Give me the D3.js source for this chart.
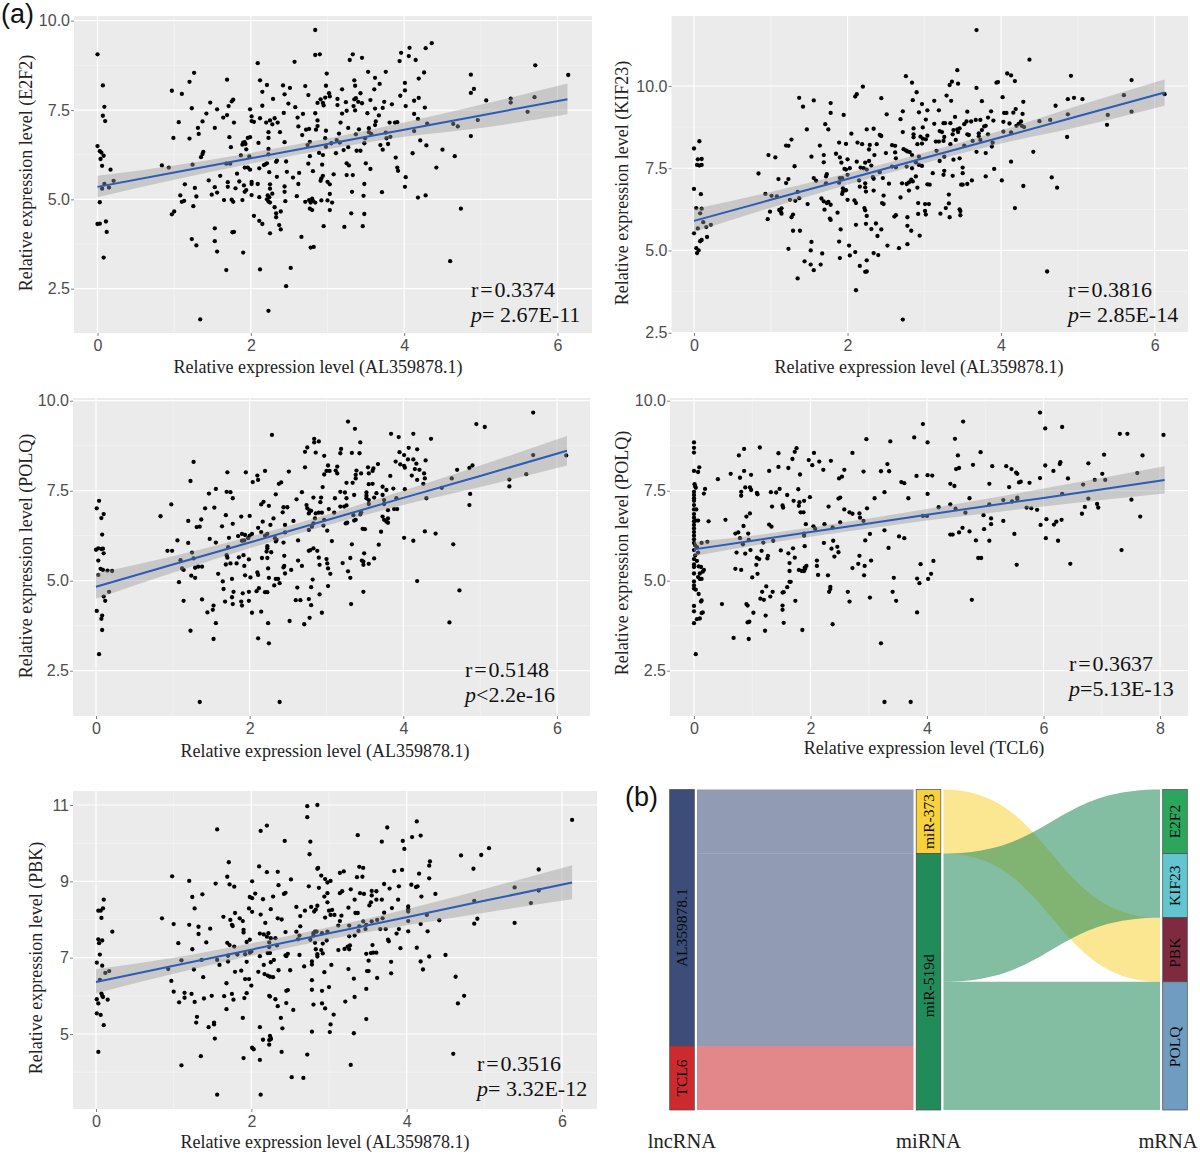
<!DOCTYPE html>
<html>
<head>
<meta charset="utf-8">
<script src="https://cdn.jsdelivr.net/npm/d3@7"></script>
<style>
  html, body { margin: 0; background: #fff; }
  svg { display: block; }
</style>
</head>
<body>
<svg id="chart" width="1200" height="1154"></svg>
<script>
// scatter values, [x, y]
var e2f2Points = [[0,9.06],[.07,8.19],[.09,7.59],[.07,7.34],[.10,7.19],[0,6.49],[.03,6.35],[.05,6.31],[.08,6.22],[.04,6.13],[.06,5.94],[.17,5.83],[.21,5.52],[.09,5.43],[.15,5.33],[.06,5.30],[.03,4.92],[0,4.31],[.03,4.32],[.11,4.38],[.12,4.09],[.08,3.37],
[.84,5.95],[.93,5.89],[.97,4.58],[1,4.66],[.97,8.04],[1.10,7.95],[1.06,7.16],[.99,6.72],[1.08,5.11],[1.10,4.93],[1.13,4.96],[1.14,5.42],[1.2,8.29],[1.26,8.54],[1.23,7.55],[1.2,6.7],[1.24,5.97],[1.27,5.32],[1.25,4.81],[1.29,5.08],[1.23,3.89],[1.29,3.71],[1.31,7],[1.32,6.83],[1.37,7.18],[1.35,6.18],[1.37,6.27],[1.38,6.33],[1.34,1.64],[1.42,7.4],[1.47,7.71],[1.45,5.53],[1.49,5.13],[1.53,7],[1.56,7.52],[1.6,5.66],[1.53,5.34],[1.56,5.19],[1.53,4.19],[1.53,3.83],[1.56,3.54],[1.68,3.02],[1.69,8.35],[1.64,7.29],[1.69,7.36],[1.71,7.61],[1.75,7.74],[1.77,7.79],[1.78,7.15],[1.72,6.74],[1.74,6.46],[1.68,6],[1.73,6],[1.7,5.48],[1.7,5.35],[1.65,4.98],[1.75,4.99],[1.77,4.93],[1.8,5.31],[1.82,5.72],[1.85,5.5],[1.76,4.08],[1.78,4.09],[1.89,4.98],[1.9,3.51],[1.87,6.23],[1.89,6.53],[1.92,6.6],[1.9,6.59],[1.93,6.55],[1.92,5.89],[1.91,5.39],[1.96,5.89],[1.92,5.21],[1.94,5.26],[1.94,6.4],[1.96,6.72],[1.99,6.74],[1.98,6.2],[1.99,7.52],[2.01,7.32],[2.04,7.17],[2.01,7.19],[1.99,5.83],[2.01,5.49],[2.01,5.43],[2.01,5.12],[2.04,4.54],
[2.09,8.81],[2.12,8.33],[2.15,8.01],[2.15,7.62],[2.12,7.27],[2.1,6.58],[2.11,5.87],[2.17,5.96],[2.19,5.98],[2.21,6.01],[2.09,5.43],[2.11,5.06],[2.11,4.4],[2.15,4.31],[2.12,3.04],[2.23,1.88],[2.21,8.2],[2.29,7.81],[2.2,7.15],[2.25,7.21],[2.31,7.27],[2.28,7.1],[2.35,7.15],[2.23,6.88],[2.23,6.72],[2.23,6.41],[2.23,6.26],[2.38,6.88],[2.44,6.6],[2.33,6.05],[2.34,6.08],[2.24,5.76],[2.34,5.63],[2.25,5.42],[2.25,5.3],[2.28,5.16],[2.22,5.11],[2.21,5],[2.23,4.94],[2.25,4.91],[2.24,5.06],[2.31,4.78],[2.33,4.61],[2.33,4.5],[2.39,4.66],[2.37,4.28],[2.39,4.16],[2.25,4.05],[2.46,2.57],[2.52,3.08],[2.42,8.19],[2.44,7.94],[2.51,8.12],[2.49,7.68],[2.43,7.42],[2.58,7.58],[2.57,8.85],[2.46,6.06],[2.47,5.77],[2.44,5.36],[2.44,5.21],[2.45,4.95],[2.55,5.61],[2.6,5.09],[2.66,3.95],[2.61,7.29],[2.62,7.04],[2.68,7.39],[2.67,6.8],[2.71,8.17],[2.75,7.92],[2.72,6.95],[2.76,6.97],[2.74,6.52],[2.77,6.61],[2.75,6],[2.77,6.21],[2.63,5.74],[2.62,5.43],[2.71,4.93],[2.76,4.98],[2.8,5.02],[2.81,4.96],[2.78,4.91],[2.84,4.91],[2.77,4.74],[2.8,4.7],[2.78,3.65],[2.82,3.67],[2.81,5.79],
[2.84,9.74],[2.84,9.04],[2.9,9.06],[2.99,8.52],[2.98,8.18],[3.02,7.97],[3.03,7.88],[2.91,7.8],[2.97,7.85],[2.87,7.7],[2.94,7.7],[2.95,7.63],[2.84,7.41],[2.87,7.21],[2.87,7.05],[2.85,6.95],[2.98,6.92],[2.97,6.71],[2.98,6.47],[3.05,6.57],[3.12,6.66],[2.89,6.3],[2.94,6.24],[2.93,5.97],[2.92,5.59],[2.91,5.52],[2.94,5.66],[3,5.49],[3.03,5.42],[3.08,5.7],[3.03,5.15],[2.92,4.97],[3,4.97],[3.06,4.91],[3.03,4.7],[2.95,4.25],[3.22,4.23],[3.19,8.08],[3.13,7.81],[3.24,7.72],[3.13,7.64],[3.19,7.4],[3.25,7.48],[3.17,7.15],[3.15,6.84],[3.16,6.59],[3.11,6.29],[3.21,6.38],[3.27,6.46],[3.27,7],[3.25,6.01],[3.28,5.95],[3.25,5.68],[3.33,5.68],[3.32,5.21],[3.31,4.61],[3.46,4.25],[3.48,4.59],[3.47,5.1],[3.48,5.43],[3.5,6.01],[3.56,5.85],[3.29,8.9],[3.33,9.06],[3.45,8.96],[3.35,8.33],[3.36,8.18],[3.43,7.97],[3.35,7.8],[3.34,7.61],[3.37,7.83],[3.4,7.73],[3.45,7.69],[3.36,7.49],[3.52,7.41],[3.41,6.96],[3.37,6.82],[3.38,6.36],[3.43,6.36],[3.53,8.57],[3.62,8.4],[3.68,8.23],[3.61,8.08],[3.56,7.78],[3.62,7.54],[3.54,6.99],[3.62,7.08],[3.63,7.18],[3.67,7.35],[3.76,8.57],[3.74,7.73],[3.72,7.56],[3.54,6.88],[3.57,6.83],[3.48,6.57],[3.49,6.71],[3.69,6.52],[3.72,6.39],[3.77,6.71],[3.79,6.55],[3.82,6.75],[3.76,6.87],[3.84,7.66],[3.81,7.15],[3.88,7.15],[3.91,7.16],[3.89,6.17],[3.91,5.89],[3.92,5.8],[3.71,5.2],[4.02,5.62],[4.01,5.35],
[3.94,8.87],[3.96,9.1],[4.07,9.24],[4.06,9.01],[4.15,8.9],[4.28,9.23],[4.36,9.37],[4.26,8.55],[4.19,8.38],[4.01,8.26],[4.01,8.05],[3.95,7.9],[4.02,7.61],[4.13,7.76],[4.19,7.84],[4.27,7.57],[4.13,7.39],[4.18,7.25],[4.3,7.12],[4.13,6.91],[4.21,6.65],[4.11,6.29],[4.29,6.51],[4.18,5.05],[4.28,5.11],[4.42,5.89],[4.5,6.39],[4.64,7.11],[4.7,7.04],[4.66,6.21],[4.74,4.74],[4.6,3.27],[4.87,8.49],[4.87,7.98],[4.91,8.09],[4.87,6.77],[4.96,7.22],[5.07,7.77],[5.39,7.82],[5.39,7.71],[5.71,8.75],[5.7,7.86],[5.61,7.45],[6.14,8.48]];

var kif23Points = [[0,8.1],[.07,8.32],[.05,7.77],[.1,7.78],[.04,7.6],[.07,7.58],[.1,7.6],[0,6.87],[.09,6.71],[.03,6.29],[.1,6.27],[.08,6.13],[.05,5.67],[0,5.52],[.12,5.86],[.16,5.71],[.22,5.78],[.17,5.41],[.1,5.32],[.08,5.28],[.03,5.07],[.06,5],[.04,4.92],
[.84,7.34],[.93,6.72],[1.01,6.66],[1.08,6.64],[.97,7.9],[1.06,7.83],[.96,5.95],[.99,6.18],[1.1,7.17],[1.11,6.23],[1.14,6.28],[1.13,6.18],[1.14,6.12],[1.2,7.05],[1.23,7.17],[1.2,8.19],[1.23,8.18],[1.27,8.37],[1.31,7.56],[1.25,6.54],[1.32,6.51],[1.35,6.78],[1.37,6.59],[1.27,6.01],[1.29,6.09],[1.29,5.6],[1.38,5.6],[1.23,5.05],[1.35,4.15],[1.37,9.64],[1.42,9.37],[1.47,8.68],[1.56,9.56],[1.48,6.41],[1.53,7.85],[1.56,7.2],[1.59,7.12],[1.53,5.26],[1.52,5],[1.44,4.67],[1.52,4.57],[1.56,4.4],[1.65,4.57],[1.67,4.91],[1.64,8.19],[1.69,7.9],[1.69,7.68],[1.71,8.84],[1.75,8.68],[1.78,9.18],[1.78,9.48],[1.73,7.32],[1.72,7.25],[1.72,7.04],[1.66,6.58],[1.69,6.49],[1.7,6.24],[1.75,6.48],[1.78,6.39],[1.73,6.44],[1.78,5.93],[1.77,5.97],
[1.95,9.12],[1.89,8.28],[1.98,8.24],[2.05,8.55],[1.85,7.94],[1.9,7.83],[1.92,7.67],[2,7.77],[1.87,6.15],[1.91,5.64],[1.89,5.27],[1.9,4.77],[2.02,5.15],[2.03,4.85],[2.1,4.95],[2.11,3.79],[2.16,4.53],[2.25,4.7],[2.23,4.35],[2.25,4.36],[2.34,4.92],[2.4,4.86],[2.11,5.78],[2.24,5.81],[2.25,6.05],[2.22,6.29],[2.23,6.22],[2.31,5.65],[2.37,5.82],[2.39,5.44],[2.44,5.64],[2.52,5.15],[2.67,5.07],[2.1,9.68],[2.12,9.75],[2.2,9.98],[2.44,9.63],[2.51,9.14],[2.25,8.68],[2.34,8.7],[2.42,8.51],[2.44,8.48],[2.13,8.28],[2.19,8.23],[2.29,8.21],[2.38,8.23],[2.28,8.07],[2.35,7.9],[2.5,7.96],[2.58,8.2],[2.62,8.18],[2.62,7.98],[2.63,7.8],[2.69,8.99],[2.72,9.23],[2.76,10.3],[2.84,10.1],[2.9,9.81],[2.85,9.57],[2.97,9.45],[2.93,9.2],[3.04,9.26],[3.02,8.98],[3.13,9.55],[3.19,9.26],[2.72,8.6],[2.86,8.71],[2.98,8.74],[2.86,8.53],[2.86,8.44],[2.95,8.46],[2.98,8.4],[3.02,8.38],[3.04,8.49],[2.91,8.23],[2.97,8.25],[2.73,8.08],[2.76,8.04],[2.78,8.01],[2.81,7.99],[2.84,7.9],[2.93,7.85],[2.89,7.68],[2.93,7.6],[2.97,7.57],[2.77,7.55],[2.84,7.5],
[2.12,7.7],[2.17,7.52],[2.21,7.5],[2.23,7.67],[2.25,7.46],[2.28,7.72],[2.31,7.58],[1.98,7.46],[2.03,7.5],[1.96,7.48],[2,7.3],[1.9,7.2],[1.93,7.2],[1.89,7.06],[1.94,6.89],[1.94,6.79],[1.93,6.72],[1.98,6.83],[2,6.54],[2.09,6.52],[2.11,6.44],[2.15,7.13],[2.16,6.94],[2.23,7.04],[2.23,6.92],[2.24,6.79],[2.34,6.82],[2.33,7.23],[2.34,7.18],[2.42,7.38],[2.46,7.2],[2.54,7.03],[2.47,6.67],[2.45,6.44],[2.47,6.41],[2.69,6.61],[2.61,6.03],[2.63,6.07],[2.58,7.55],[2.63,7.53],[2.71,7.04],[2.77,7.02],[2.8,7.07],[2.83,7.15],[2.85,7.1],[2.8,6.82],[2.89,7.25],[2.91,6.91],[2.78,6.01],[2.78,5.75],[2.83,5.6],[2.78,5.19],[2.94,5.45],[2.92,6.44],[2.92,6.11],[3.01,6.2],[3.02,6.09],[3.01,6.41],[3.06,6.41],[3.04,7.01],[3.07,7],[3.11,7.35],[3.21,6.12],[3.28,6.29],[3.32,6.7],[3.32,6.43],[3.33,6.01],[3.46,6.25],[3.47,6.2],[3.47,6.07],[3.48,7],[3.5,7],[3.56,7.02],[3.62,7.13],[3.5,7.35],[3.5,7.52],[3.25,7.3],[3.26,7.42],[3.37,7.27],[3.38,7.76],[3.46,7.8],[3.2,7.72],[3.26,7.85],[3.68,8],[3.8,7.96],[3.8,7.25],[3.91,7.48],[4.01,7.13],[4.13,7.7],[4.18,6.29],[4.29,6.96],[4.42,8],[4.66,7.22],[4.73,6.91],[4.6,4.36],[4.86,8.45],[4.87,9.14],[4.87,9.6],[4.91,10.31],[4.95,9.64],[5.06,9.6],[5.39,9.12],[5.38,8.82],[5.6,9.72],[5.7,10.18],[5.7,9.22],[6.13,9.75],
[4.5,8.93],[4.64,8.97],[4.71,9.4],[4.37,10.8],[4.08,10.38],[4.13,10.32],[4.18,10.15],[4.29,9.52],[4.19,9.3],[4.02,9.66],[4.04,9.18],[4.07,9.18],[4.16,9.19],[4.28,9.15],[4.26,8.92],[4.23,8.85],[4.11,8.86],[4.03,8.91],[4.2,8.79],[4.27,8.79],[4.3,8.75],[4.13,8.59],[4.03,8.61],[3.94,10.1],[3.96,10.12],[3.68,11.7],[3.68,9.94],[3.43,10.48],[3.36,10.13],[3.33,10.03],[3.44,10.07],[3.29,9.71],[3.35,9.55],[3.75,9.54],[3.87,9.23],[3.83,9.04],[3.4,9.06],[3.56,9.22],[3.55,8.92],[3.61,8.92],[3.67,8.97],[3.73,8.97],[3.52,8.84],[3.9,8.95],[3.43,8.68],[3.38,8.66],[3.46,8.71],[3.2,8.63],[3.23,8.6],[3.13,8.85],[3.25,8.87],[3.27,8.87],[3.34,8.87],[3.26,8.45],[3.15,8.31],[3.19,8.31],[3.25,8.33],[3.34,8.23],[3.16,8.03],[3.41,8.36],[3.37,8.53],[3.44,8.6],[3.56,8.53],[3.58,8.51],[3.63,8.33],[3.52,8.19],[3.71,8.56],[3.78,8.77],[3.75,8.66],[3.8,8.79],[3.83,8.53],[3.71,8.47],[3.73,8.36],[3.89,8.28],[3.88,8.16],[2.72,2.9]];

var polqPoints = [[.01,7.01],[.04,7.22],[.1,6.85],[.07,6.74],[.08,6.28],[0,5.86],[.03,5.9],[.07,5.88],[.09,5.89],[.1,5.76],[.03,5.56],[.06,5.33],[.09,5.3],[.03,5.16],[.15,5.28],[.21,5.27],[.17,4.69],[.1,4.56],[.12,4.44],[.01,4.16],[.08,4.03],[.07,3.94],[.08,3.63],[.04,2.96],
[.84,6.79],[.93,5.83],[.99,5.83],[.98,7.12],[1.06,6.12],[1.1,5.57],[1.12,5.34],[1.14,5.3],[1.08,4.96],[1.14,4.44],[1.2,6.66],[1.2,6.05],[1.27,8.3],[1.23,7.77],[1.25,5.78],[1.27,5.62],[1.24,5.14],[1.29,5.08],[1.29,5.36],[1.33,5.39],[1.38,5.39],[1.23,3.61],[1.31,6.49],[1.35,6.5],[1.37,6.7],[1.38,4.48],[1.42,7.01],[1.47,7.42],[1.48,6.16],[1.45,4.12],[1.52,4.19],[1.53,4.31],[1.53,3.38],[1.56,3.82],[1.56,7.55],[1.54,7.03],[1.56,6.06],[1.59,5.19],[1.64,6.51],[1.65,4.98],[1.66,4.77],[1.68,4.42],[1.69,6.82],[1.7,7.47],[1.75,7.46],[1.71,8.01],[1.78,7.29],[1.78,6.58],[1.73,6.19],[1.72,5.93],[1.7,5.71],[1.71,5.64],[1.69,5.45],[1.75,5.48],[1.83,5.48],[1.77,5.05],[1.77,4.54],[1.79,4.69],[1.78,4.35],[1.86,5.65],[1.85,6.24],[1.9,6.3],[1.94,6.27],[1.9,6.11],[1.93,6.12],[1.98,6.18],[2,6.25],[2.03,6.3],[1.89,6.78],[2,6.8],[1.95,8.01],[1.92,5.71],[1.93,5.41],[1.99,5.59],[1.94,5.15],[2.01,5.09],[1.89,4.42],[1.91,4.65],[1.9,4.31],[1.99,4.69],[1.99,4.44],[2.03,4.11],
[2.12,4.79],[2.09,4.71],[2.11,3.4],[2.15,4.14],[2.24,3.82],[2.25,3.26],[2.04,7.74],[2.1,7.92],[2.11,7.8],[2.2,8.05],[2.15,7.12],[2.18,7.19],[2.17,6.64],[2.25,7.08],[2.11,6.47],[2.15,6.35],[2.23,6.3],[2.2,6.25],[2.29,9.05],[2.31,6.73],[2.27,6.55],[2.34,7.4],[2.38,7.69],[2.41,7.73],[2.23,5.96],[2.23,5.9],[2.22,5.81],[2.28,5.79],[2.16,5.63],[2.23,5.63],[2.1,5.23],[2.11,5.16],[2.24,5.34],[2.25,5.08],[2.2,4.68],[2.23,4.68],[2.33,6.18],[2.34,6.09],[2.35,6.13],[2.32,4.87],[2.34,5.05],[2.37,5.05],[2.39,4.93],[2.44,7.04],[2.49,7.04],[2.43,6.9],[2.51,8.03],[2.57,6.66],[2.46,6.55],[2.46,6.34],[2.44,6.06],[2.45,5.69],[2.44,5.37],[2.45,5.41],[2.46,5.2],[2.54,5.3],[2.52,3.88],[2.63,6.12],[2.68,7.46],[2.61,7.26],[2.63,5.56],[2.68,5.41],[2.62,4.81],[2.6,4.46],[2.66,4.46],[2.71,3.79],[2.72,8.58],[2.75,8.7],[2.72,8.15],[2.84,8.94],[2.84,8.84],[2.9,8.87],[2.86,8.56],[2.97,8.47],[2.77,6.41],[2.74,7.1],[2.75,7.01],[2.78,6.95],[2.8,6.94],[2.77,6.87],[2.83,7.31],[2.93,7.31],[2.92,7.18],[2.86,6.87],[2.9,6.89],[2.94,6.89],[2.85,6.73],[2.83,6.59],[2.81,6.5],[2.97,6.69],[2.96,6.53],[2.79,5.85],[2.77,5.83],[2.83,5.9],[2.88,5.83],[2.9,5.64],[2.91,5.44],[2.82,5.03],[2.8,4.82],[2.77,4.49],[2.8,4.32],[2.91,4.62],[2.78,3.97],[2.94,4.11],
[3.02,8.2],[3,8.05],[3.04,8.05],[2.97,7.95],[2.95,7.6],[3.12,8.06],[3.14,8.17],[3.14,7.98],[3.19,8.66],[3.18,8.54],[3.33,8.55],[3.43,8.54],[3.11,7.29],[3.03,6.99],[3.1,6.89],[3.01,6.39],[3.07,6.1],[3,5.6],[3.01,5.48],[3.02,5.34],[3.05,5.19],[3.02,4.85],[3.18,7.47],[3.26,7.72],[3.24,7.45],[3.23,7.06],[3.26,7.09],[3.18,7.06],[3.26,7.29],[3.34,7.72],[3.36,7.38],[3.25,6.59],[3.27,6.61],[3.28,9.42],[3.37,9.22],[3.44,8.84],[3.39,8.06],[3.45,7.98],[3.38,7.94],[3.38,7.84],[3.54,8.15],[3.61,8.12],[3.6,8.05],[3.55,7.98],[3.67,8.24],[3.55,7.68],[3.6,7.69],[3.52,7.45],[3.52,7.36],[3.52,7.29],[3.55,7.24],[3.55,7.13],[3.65,7.43],[3.62,7.31],[3.73,7.61],[3.73,7.38],[3.78,7.52],[3.75,7.24],[3.75,7.13],[3.87,7.56],[3.83,7.91],[3.35,6.82],[3.44,6.84],[3.45,6.9],[3.36,6.67],[3.38,6.69],[3.47,6.44],[3.5,6.43],[3.33,6.01],[3.31,5.63],[3.28,5.26],[3.21,5.49],[3.31,5.08],[3.32,4.35],[3.48,4.69],[3.49,5.76],[3.46,5.56],[3.48,5.53],[3.48,5.44],[3.55,5.47],[3.62,5.62],[3.68,6],[3.71,6.36],[3.73,6.78],[3.75,6.69],[3.78,6.64],[3.8,6.73],[3.8,6.61],[3.8,6.96],[3.88,6.99],[3.92,6.99],[3.91,7.29],
[3.84,9.08],[3.94,8.99],[4.13,9.08],[4.36,8.94],[4.07,8.69],[4.18,8.65],[3.95,8.57],[4.01,8.49],[4.06,8.37],[3.9,8.31],[3.96,8.23],[4.01,8.19],[4.02,8.14],[4.13,8.37],[4.17,8.25],[4.29,8.34],[4.15,8.1],[4.21,8.08],[4.27,7.98],[4.28,7.84],[4.11,7.92],[4.18,7.8],[4.26,7.69],[4.02,7.54],[4.3,7.29],[4.5,7.58],[4.63,7.84],[4.7,8.08],[4.86,8.13],[4.9,8.2],[4.87,7.41],[4.86,7.1],[4.28,6.37],[4.42,6.31],[4.01,6.19],[4.13,6.11],[4.18,4.99],[4.65,6.01],[4.73,4.73],[4.6,3.84],[4.95,9.35],[5.06,9.27],[5.38,7.81],[5.38,7.62],[5.6,7.96],[5.69,9.67],[5.69,8.49],[6.12,8.48],[1.35,1.63],[2.39,1.63]];

var polqTcl6Points = [[0,8.84],[0,8.69],[0,8.56],[.09,8.15],[0,8.05],[.07,8.02],[.01,7.68],[.02,7.62],[.03,7.58],[0,7.47],[0,7.38],[0,7.29],[0,7.22],[0,7.1],[0,6.98],[.04,6.98],[0,6.85],[0,6.75],[0,6.65],[.03,6.67],[.07,6.67],[0,6.55],[0,6.45],[0,6.35],[0,6.25],[0,6.15],[0,6.05],[.02,5.98],[.05,5.93],[0,5.85],[.07,5.78],[.02,5.7],[0,5.6],[.05,5.55],[0,5.45],[0,5.38],[.08,5.4],[.12,5.38],[.17,5.3],[.15,5.25],[.1,5.2],[0,5.2],[.07,5.1],[0,4.98],[.1,5.05],[.13,5.05],[0,4.87],[0,4.78],[.03,4.75],[.08,4.63],[.13,4.45],[.12,4.42],[0,4.3],[0,4.15],[.15,4.12],[.13,4.1],[.1,3.95],[.05,3.93],[0,3.82],[.03,2.96],[.13,6.05],[.23,6.08],[.25,6.65],[.17,7.42],[.19,7.55],
[.41,7.82],[.54,6.69],[.63,7.97],[.48,4.35],[.68,3.41],[.77,8.48],[.86,8.66],[.86,8.05],[.79,7.86],[.98,7.94],[.81,7.47],[.81,7.36],[.88,7.59],[.96,7.59],[.98,7.52],[.9,6.78],[.96,6.87],[.85,6.52],[.71,6.31],[.76,6.34],[.93,6.31],[.94,6.13],[.79,6.18],[.84,6.01],[.73,5.78],[.88,5.75],[.97,5.85],[.71,5.33],[.81,5.3],[1,5.09],[1.07,5.44],[1.08,5.64],[1.12,5.6],[1.09,5.19],[.9,4.35],[.92,4.31],[1.02,4.11],[1.14,4.5],[1.17,4.69],[1.2,4.47],[1.24,4.84],[1.23,4.03],[1.22,3.61],[.95,3.86],[.92,3.84],[.94,3.38],[1.08,7.44],[1.09,7.4],[1.13,8.7],[1.29,8.05],[1.32,7.46],[1.41,7.45],[1.47,7.55],[1.34,7.06],[1.16,5.83],[1.19,6.06],[1.29,6.56],[1.33,6.5],[1.36,6.11],[1.26,5.62],[1.27,5.69],[1.31,4.56],[1.35,4.69],[1.45,8.54],[1.45,8.16],[1.52,7.09],[1.53,7.03],[1.49,5.84],[1.52,4.67],[1.54,4.68],[1.52,4.31],[1.52,4.19],[1.54,3.83],[1.62,8.13],[1.69,8.38],[1.73,8.58],[1.76,8.68],[1.6,7.38],[1.71,7.22],[1.81,7.18],[1.8,7.08],[1.82,7.95],[1.79,7.54],[1.83,6.9],[1.88,6.9],[1.89,7.22],[1.62,5.76],[1.7,5.9],[1.73,5.64],[1.64,5.49],[1.64,5.27],[1.6,4.82],[1.64,4.97],[1.66,4.97],[1.8,5.3],[1.85,5.27],[1.89,5.27],[1.91,5.33],[1.93,5.41],[1.9,5.36],[1.9,5.96],[1.89,6.31],[1.89,6.25],[1.92,6.57],[1.74,4.44],[1.86,3.63],
[1.97,8.35],[2.03,8.21],[2.06,8.55],[2.15,8.31],[2.22,8.08],[2.24,6.57],[2.05,6.51],[2.08,6.44],[1.99,7.32],[2.11,5.56],[2.11,5.41],[2.13,5.16],[2.23,6.05],[2.3,5.15],[2.31,7.06],[2.35,8.33],[2.34,4.83],[2.34,4.77],[2.32,4.69],[2.38,3.79],[2.36,5.89],[2.39,6.11],[2.38,6.48],[2.41,5.67],[2.46,5.94],[2.48,5.79],[2.48,7.28],[2.51,7.31],[2.51,6.62],[2.49,7.84],[2.54,7.89],[2.58,8.08],[2.58,6.98],[2.64,4.69],[2.67,4.42],[2.72,5.35],[2.72,8.55],[2.67,6.9],[2.72,6.86],[2.84,6.87],[2.85,6.75],[2.91,6.66],[2.84,5.69],[2.82,5.47],[2.93,5.41],[2.92,5.15],[2.91,8.03],[2.96,8.93],[2.94,6.12],[2.97,7.01],[3.02,6.3],[3.02,4.53],[3.04,5.56],[3.1,7.29],[3.21,8.04],[3.27,7.46],[3.35,8.04],[3.32,8.24],[3.37,8.87],[3.27,6.4],[3.34,5.91],[3.21,3.26],[3.27,1.63],[3.72,1.63],[3.41,4.69],[3.43,5.08],[3.47,4.44],[3.52,6.23],[3.61,6.18],[3.56,7.74],[3.61,7.71],[3.68,7.29],[3.82,7.91],[3.78,8.98],[3.93,9.35],[4.01,8.84],[4.01,7.93],[4.09,7.92],[4.01,7.41],[3.93,6.8],[4,6.8],[4.11,5.55],[3.89,5.46],[3.83,5.06],[3.87,4.93],[4.02,5.05],[4.07,5.19],[3.83,4.12],
[4.2,7.04],[4.4,7.69],[4.47,7.63],[4.4,7.12],[4.49,7],[4.48,8.94],[4.53,8.48],[4.5,8.1],[4.55,8.13],[4.62,9.42],[4.79,8.22],[4.92,8.57],[4.73,7.29],[4.66,6.89],[4.61,6.47],[4.55,6.34],[4.4,6.28],[4.44,6.28],[4.73,6.37],[4.84,6.12],[4.77,4.47],[4.88,5.63],[4.93,5.63],[4.97,6.82],[4.98,6.43],[5.07,7.69],[5.07,7.12],[5.1,6.73],[5.1,6.57],[5.07,6.11],[5.12,8.18],[5.31,7.24],[5.31,6.66],[5.36,8.18],[5.45,8.1],[5.53,8],[5.55,7.97],[5.41,7.6],[5.46,7.2],[5.55,7.31],[5.55,7.27],[5.5,6.3],[5.54,5.44],[5.61,7.75],[5.58,7.73],[5.76,7.72],[5.71,7.03],[5.79,7.01],[5.89,6.97],[5.94,9.67],[5.94,7.85],[5.95,6.55],[6.03,9.23],[6.03,8.2],[6.05,6.71],[6.04,6.18],[6.17,8.05],[6.28,8.24],[6.29,8.29],[6.32,9.27],[6.32,7.41],[6.31,6.69],[6.18,6.56],[6.22,6.64],[6.25,6.11],[6.46,5.47],[6.42,7.84],[6.68,7.67],[6.66,6.86],[6.71,7.05],[6.77,8.26],[6.77,7.28],[6.88,7.8],[6.92,7.13],[6.94,7.03],[7.01,7.97],[7.04,8.5],[7.06,7.8],[7.31,9.08],[7.44,9.08],[7.34,5.85],[7.51,7.25],[7.61,7.99],[7.66,6.78],[7.7,8.48],[8.06,9.05]];

var pbkPoints = [[.01,5.91],[.03,5.8],[.01,5.54],[.06,5.5],[.1,5.23],[.03,4.53],[.01,6.87],[.08,6.79],[.05,7.08],[.03,7.48],[.04,7.38],[.08,7.45],[.03,8.23],[.06,8.23],[.09,8.29],[.07,8.04],[.1,8.52],[.21,7.68],[.17,6.65],[.12,6.6],[.05,6.42],[.07,6.06],[.08,6],[.09,5.97],[.15,5.9],
[.85,8.03],[.98,9.13],[1,7.88],[.93,6.7],[.97,6.39],[1,6.11],[1.06,7.38],[1.1,6.93],[1.07,5.83],[1.14,5.95],[1.14,6.08],[1.1,4.18],[1.2,9.01],[1.2,7.86],[1.24,8.59],[1.27,8.29],[1.24,7.22],[1.32,7.81],[1.32,7.62],[1.26,6.69],[1.23,6.05],[1.27,5.84],[1.3,5.45],[1.29,5.3],[1.35,4.42],[1.37,8.66],[1.36,6.94],[1.38,6.49],[1.42,7.4],[1.47,7.76],[1.39,5.93],[1.49,6],[1.45,5.18],[1.52,5.3],[1.52,5.25],[1.53,4.88],[1.54,8.94],[1.56,10.36],[1.56,3.41],[1.56,6.94],[1.59,6.81],[1.64,8.07],[1.65,5.99],[1.68,5.65],[1.68,6.33],[1.69,7.39],[1.7,6.9],[1.7,7.05],[1.72,7.33],[1.69,9.12],[1.71,9.5],[1.72,8.92],[1.78,8.86],[1.73,7.99],[1.76,7.83],[1.75,7.86],[1.79,8.17],[1.78,7.29],[1.75,6.05],[1.77,5.9],[1.79,6.63],[1.82,7.08],[1.85,8.03],[1.89,7.96],[1.9,7.73],[1.9,7.66],[1.87,6.66],[1.92,7.09],[1.94,7.41],[1.98,7.47],[2,7.16],[1.98,7.13],[1.94,6.89],[1.92,6.44],[1.97,6.44],[2,6.27],[1.94,6.07],[1.91,5.94],[1.89,5.42],[1.9,4.37],[2.01,4.64],[2.03,4.6],
[2.11,5.18],[2.11,4.32],[2.12,3.41],[2.15,4.85],[2.23,4.84],[2.25,4.89],[2.24,4.95],[2.23,4.72],[2.25,4.86],[2.1,9.39],[2.12,10.32],[2.2,10.46],[2.2,9.24],[2.01,9],[1.98,8.59],[2.01,8.56],[2.05,8.68],[1.97,8.29],[2.01,8.2],[2.15,8.53],[2.12,8.13],[2.18,7.91],[2.11,7.63],[2.16,7.61],[2.22,7.64],[2.2,7.55],[2.23,7.4],[2.23,7.28],[2.11,7.04],[2.21,7.12],[2.24,7.12],[2.16,6.81],[2.25,6.88],[2.29,6.94],[2.25,7.51],[2.31,7.51],[2.34,9.25],[2.35,8.9],[2.28,8.6],[2.25,8.27],[2.34,8.03],[2.39,8],[2.44,7.67],[2.33,7.32],[2.35,6.67],[2.09,6.63],[2.17,6.57],[2.21,6.53],[2.24,6.5],[2.28,6.49],[2.23,6],[2.24,5.98],[2.31,5.91],[2.34,5.73],[2.38,5.42],[2.4,5.15],[2.39,4.53],[2.43,10.06],[2.42,8.67],[2.44,8.7],[2.45,7.04],[2.47,7.1],[2.44,7.06],[2.5,6.67],[2.45,6.13],[2.47,6.15],[2.45,5.81],[2.54,5.63],[2.51,9.05],[2.52,3.87],[2.58,8.33],[2.63,8.09],[2.69,8.23],[2.58,7.68],[2.63,7.82],[2.62,7.58],[2.6,7.48],[2.62,7.07],[2.68,6.77],[2.67,3.85],[2.72,10.68],[2.72,10.97],[2.85,11],[2.76,10.04],[2.75,9.71],[2.74,8.87],[2.87,8.83],[2.86,9.35],[2.85,9.33],[2.9,9.15],[2.77,8.33],[2.85,8.36],[2.81,8.21],[2.83,8.26],[2.76,7.47],[2.8,7.64],[2.82,7.68],[2.8,7.58],[2.84,7.68],[2.82,7.39],[2.83,7.22],[2.9,7.2],[2.92,7.11],[2.85,7.09],[2.85,7.03],[2.78,6.9],[2.78,6.82],[2.78,6.41],[2.78,6.16],[2.8,5.77],[2.78,5.06],[2.72,4.46],
[2.94,8.6],[2.98,8.69],[2.98,8.45],[2.95,9.06],[2.98,8.97],[3.02,9.01],[2.91,6.13],[3,6.23],[2.94,6.62],[3.03,6.81],[2.92,7.37],[2.97,7.45],[2.98,7.68],[2.91,7.64],[2.95,8.05],[3,8.23],[3.02,8.12],[3.04,8.25],[3.07,8.12],[2.91,5.8],[2.95,5.67],[3.06,5.51],[3.02,5.25],[3.01,5.05],[3.12,7.2],[3.12,7.84],[3.14,7.96],[3.16,8.1],[3.14,8.69],[3.17,8.74],[3.14,9.22],[3.19,9.26],[3.21,5.85],[3.25,6.7],[3.26,7.84],[3.26,7.56],[3.2,7.23],[3.24,7.29],[3.27,7.32],[3.26,7.22],[3.25,8.31],[3.28,8.79],[3.32,6.45],[3.28,4.19],[3.32,5.02],[3.33,5.97],[3.33,7.58],[3.33,8.52],[3.34,8.17],[3.37,8.17],[3.36,9.11],[3.43,9.12],[3.39,9.38],[3.44,9.35],[3.37,10.21],[3.4,8.69],[3.45,8.67],[3.38,7.7],[3.39,7.82],[3.44,7.95],[3.47,7.75],[3.48,7.86],[3.48,7.1],[3.54,7.12],[3.57,7.13],[3.61,7.13],[3.56,7.33],[3.51,6.92],[3.49,6.65],[3.51,6.65],[3.48,6.18],[3.48,5.39],[3.52,8.37],[3.54,8.45],[3.55,8.75],[3.55,8.63],[3.61,8.74],[3.61,8.52],[3.68,8.52],[3.55,7.95],[3.62,7.99],[3.69,8.03],[3.66,7.75],[3.73,7.75],[3.62,6.47],[3.71,8.93],[3.71,8.18],[3.78,8.81],[3.81,8.3],[3.76,7.47],[3.77,7.43],[3.8,6.89],[3.8,6.59],[3.68,10.04],[3.75,10.41],[3.84,9.27],[3.87,7.63],[3.9,7.75],[3.92,7.25],[3.89,8.52],[3.9,8.87],[3.94,9.3],[3.95,10.06],[3.97,9.85],
[4.07,10.16],[4.18,10.2],[4.13,10.57],[4.16,9.2],[4.06,8.91],[4.12,8.85],[4.14,8.87],[4.19,8.6],[4.02,8.34],[4.02,8.27],[4.02,8.21],[4.02,7.96],[4.02,7.69],[4.18,7.88],[4.27,7.69],[4.26,8.12],[4.13,7.26],[4.18,6.9],[4.21,6.69],[4.29,7.03],[4.42,7.98],[4.37,8.67],[4.3,9.52],[4.29,9.41],[4.29,9.08],[4.5,7.07],[4.63,6.5],[4.66,5.8],[4.74,6],[4.6,4.48],[4.7,9.68],[4.86,9.33],[4.87,8.49],[4.87,7.89],[4.91,8.02],[4.96,9.69],[5.06,9.87],[5.39,8.84],[5.39,7.91],[5.6,8.43],[5.7,9.31],[5.7,8.76],[6.13,10.61]];

// fitted lines and confidence bands, read at a few stations
var fitX = [0, 1, 2, 3, 4, 5, 6.13];
var fitXTcl6 = [0, 1, 2, 3, 4, 5, 6, 8.08];
var e2f2Fit = [5.35, 5.75, 6.15, 6.55, 6.95, 7.35, 7.8];
var e2f2Lo = [5.06, 5.55, 6, 6.4, 6.75, 7, 7.38];
var e2f2Hi = [5.66, 5.95, 6.3, 6.7, 7.15, 7.65, 8.24];
var kif23Fit = [5.9, 6.54, 7.17, 7.81, 8.44, 9.08, 9.8];
var kif23Lo = [5.56, 6.3, 7, 7.65, 8.25, 8.75, 9.4];
var kif23Hi = [6.26, 6.78, 7.35, 7.97, 8.65, 9.4, 10.2];
var polqFit = [4.83, 5.45, 6.06, 6.68, 7.3, 7.91, 8.61];
var polqLo = [4.5, 5.22, 5.9, 6.53, 7.1, 7.6, 8.2];
var polqHi = [5.2, 5.68, 6.22, 6.83, 7.5, 8.2, 9.02];
var polqTcl6Fit = [5.87, 6.11, 6.35, 6.59, 6.83, 7.07, 7.3, 7.8];
var polqTcl6Lo = [5.68, 5.97, 6.22, 6.45, 6.67, 6.87, 7.06, 7.42];
var polqTcl6Hi = [6.08, 6.25, 6.48, 6.73, 6.99, 7.27, 7.56, 8.18];
var pbkFit = [6.36, 6.79, 7.21, 7.64, 8.06, 8.49, 8.97];
var pbkLo = [6.07, 6.58, 7.05, 7.48, 7.85, 8.18, 8.53];
var pbkHi = [6.7, 7, 7.38, 7.8, 8.27, 8.8, 9.42];

var xTicks = [0, 2, 4, 6];
var xTicksTcl6 = [0, 2, 4, 6, 8];
var yTicks = [2.5, 5, 7.5, 10];
var yTicksPbk = [5, 7, 9, 11];

// alluvial (b)
var alluvialAxes = ["lncRNA", "miRNA", "mRNA"];
var lncrnaNames = ["AL359878.1", "TCL6"];
var lncrnaSizes = [4, 1];
var mirnaNames = ["miR-373", "miR-519d"];
var mirnaSizes = [1, 4];
var mrnaNames = ["E2F2", "KIF23", "PBK", "POLQ"];
var mrnaSizes = [1, 1, 1, 2];
var leftFlows = [["AL359878.1", "miR-373", 1], ["AL359878.1", "miR-519d", 3], ["TCL6", "miR-519d", 1]];
// the E2F2 and KIF23 flows run as one band
var rightFlows = [["miR-373", "PBK", 1], ["miR-519d", "E2F2", 2], ["miR-519d", "POLQ", 2]];

var svg = d3.select("#chart");
var serif = "'Liberation Serif', serif";
var sans = "'Liberation Sans', sans-serif";

function midpoints(ticks) {
  var out = [];
  for (var i = 1; i < ticks.length; i++) out.push((ticks[i - 1] + ticks[i]) / 2);
  return out;
}

function drawPanel(p) {
  var x = d3.scaleLinear().domain(p.xDomain).range(p.xRange);
  var y = d3.scaleLinear().domain(p.yDomain).range(p.yRange);
  var g = svg.append("g");

  g.append("rect")
    .attr("x", p.left).attr("y", p.top)
    .attr("width", p.right - p.left).attr("height", p.bottom - p.top)
    .attr("fill", "#ebebeb");

  // minor grid first, major on top
  var xMinor = midpoints(p.xTicks), yMinor = midpoints(p.yTicks);
  if (p.yMinorExtra) yMinor = yMinor.concat(p.yMinorExtra);
  g.selectAll(".xm").data(xMinor).enter().append("line")
    .attr("x1", x).attr("x2", x).attr("y1", p.top).attr("y2", p.bottom)
    .attr("stroke", "#f6f6f6").attr("stroke-width", 0.6);
  g.selectAll(".ym").data(yMinor).enter().append("line")
    .attr("y1", y).attr("y2", y).attr("x1", p.left).attr("x2", p.right)
    .attr("stroke", "#f6f6f6").attr("stroke-width", 0.6);
  g.selectAll(".xg").data(p.xTicks).enter().append("line")
    .attr("x1", x).attr("x2", x).attr("y1", p.top).attr("y2", p.bottom)
    .attr("stroke", "#fff").attr("stroke-width", 1.2);
  g.selectAll(".yg").data(p.yTicks).enter().append("line")
    .attr("y1", y).attr("y2", y).attr("x1", p.left).attr("x2", p.right)
    .attr("stroke", "#fff").attr("stroke-width", 1.2);

  var xAxis = g.append("g")
    .attr("transform", "translate(0," + p.bottom + ")")
    .call(d3.axisBottom(x).tickValues(p.xTicks).tickSize(3).tickPadding(4).tickFormat(d3.format("d")));
  var yAxis = g.append("g")
    .attr("transform", "translate(" + p.left + ",0)")
    .call(d3.axisLeft(y).tickValues(p.yTicks).tickSize(3).tickPadding(1).tickFormat(p.yFormat));
  [xAxis, yAxis].forEach(function (a) {
    a.select(".domain").remove();
    a.selectAll(".tick line").attr("stroke", "#666").attr("stroke-width", 0.8);
    a.selectAll("text").attr("fill", "#4d4d4d").style("font-family", sans).style("font-size", "16px");
  });

  g.selectAll(".pt").data(p.points).enter().append("circle")
    .attr("cx", function (d) { return x(d[0]); })
    .attr("cy", function (d) { return y(d[1]); })
    .attr("r", 2.15)
    .attr("fill", "#000");

  var band = d3.area()
    .x(function (d) { return x(d.x); })
    .y0(function (d) { return y(d.lo); })
    .y1(function (d) { return y(d.hi); })
    .curve(d3.curveMonotoneX);
  var rows = p.fitX.map(function (v, i) {
    return { x: v, fit: p.fit[i], lo: p.lo[i], hi: p.hi[i] };
  });
  g.append("path").attr("d", band(rows)).attr("fill", "#999").attr("fill-opacity", 0.42);
  g.append("path")
    .attr("d", d3.line().x(function (d) { return x(d.x); }).y(function (d) { return y(d.fit); })(rows))
    .attr("fill", "none").attr("stroke", "#2a5cb8").attr("stroke-width", 2);

  g.append("text")
    .attr("x", p.xTitle[0]).attr("y", p.xTitle[1])
    .attr("text-anchor", "middle")
    .style("font-family", serif).style("font-size", "18px").attr("fill", "#222")
    .text(p.xLabel);
  g.append("text")
    .attr("transform", "translate(" + p.yTitle[0] + "," + p.yTitle[1] + ") rotate(-90)")
    .attr("text-anchor", "middle")
    .style("font-family", serif).style("font-size", "18px").attr("fill", "#222")
    .text(p.yLabel);

  g.append("text")
    .attr("x", p.note[0]).attr("y", p.note[1])
    .style("font-family", serif).style("font-size", "22px").attr("fill", "#111")
    .text(p.rText);
  var pLine = g.append("text")
    .attr("x", p.note[0]).attr("y", p.note[1] + 25)
    .style("font-family", serif).style("font-size", "22px").attr("fill", "#111");
  pLine.append("tspan").style("font-style", "italic").text("p");
  pLine.append("tspan").text(p.pText);
}

var f1 = d3.format(".1f"), f0 = d3.format("d");

drawPanel({
  points: e2f2Points, fitX: fitX, fit: e2f2Fit, lo: e2f2Lo, hi: e2f2Hi,
  xDomain: [0, 6], xRange: [97.5, 557.5], yDomain: [2.5, 10], yRange: [288.7, 20.7],
  left: 74, right: 592, top: 16, bottom: 333,
  xTicks: xTicks, yTicks: yTicks, yFormat: f1,
  xLabel: "Relative expression level (AL359878.1)", yLabel: "Relative expression level (E2F2)",
  xTitle: [318, 373], yTitle: [32, 173], note: [471, 297], rText: "r\u200A=\u200A0.3374", pText: "=  2.67E-11"
});
drawPanel({
  points: kif23Points, fitX: fitX, fit: kif23Fit, lo: kif23Lo, hi: kif23Hi,
  xDomain: [0, 6], xRange: [694, 1154.6], yDomain: [2.5, 10], yRange: [332.7, 86],
  left: 671.5, right: 1188, top: 16, bottom: 333,
  xTicks: xTicks, yTicks: yTicks, yFormat: f1,
  xLabel: "Relative expression level (AL359878.1)", yLabel: "Relative expression level (KIF23)",
  xTitle: [919, 373], yTitle: [628, 183], note: [1068, 297], rText: "r\u200A=\u200A0.3816", pText: "=  2.85E-14"
});
drawPanel({
  points: polqPoints, fitX: fitX, fit: polqFit, lo: polqLo, hi: polqHi,
  xDomain: [0, 6], xRange: [96, 557], yDomain: [2.5, 10], yRange: [670.7, 400.7],
  left: 73, right: 590, top: 398, bottom: 716,
  xTicks: xTicks, yTicks: yTicks, yFormat: f1,
  xLabel: "Relative expression level (AL359878.1)", yLabel: "Relative expression level (POLQ)",
  xTitle: [325, 757], yTitle: [32, 556], note: [465, 677], rText: "r\u200A=\u200A0.5148", pText: "<2.2e-16"
});
drawPanel({
  points: polqTcl6Points, fitX: fitXTcl6, fit: polqTcl6Fit, lo: polqTcl6Lo, hi: polqTcl6Hi,
  xDomain: [0, 8], xRange: [694, 1160], yDomain: [2.5, 10], yRange: [670.7, 400.7],
  left: 670, right: 1188, top: 398, bottom: 716,
  xTicks: xTicksTcl6, yTicks: yTicks, yFormat: f1,
  xLabel: "Relative expression level (TCL6)", yLabel: "Relative expression level (POLQ)",
  xTitle: [924, 754], yTitle: [628, 553], note: [1069, 671], rText: "r\u200A=\u200A0.3637", pText: "=5.13E-13"
});
drawPanel({
  points: pbkPoints, fitX: fitX, fit: pbkFit, lo: pbkLo, hi: pbkHi,
  xDomain: [0, 6], xRange: [96, 562], yDomain: [5, 11], yRange: [1034, 805],
  left: 73, right: 597, top: 791, bottom: 1109,
  xTicks: xTicks, yTicks: yTicksPbk, yFormat: f0, yMinorExtra: [4],
  xLabel: "Relative expression level (AL359878.1)", yLabel: "Relative expression level (PBK)",
  xTitle: [325, 1148], yTitle: [42, 958], note: [477, 1071], rText: "r\u200A=\u200A0.3516", pText: "=  3.32E-12"
});

// ---- alluvial ----
var nodeColor = {
  "AL359878.1": "#3b4d78", "TCL6": "#cc2a2f",
  "miR-373": "#f8d23c", "miR-519d": "#228b5a",
  "E2F2": "#2ca65c", "KIF23": "#63c5cf", "PBK": "#7f2a3f", "POLQ": "#6f9cc0"
};
// labels sit a bit off the stratum centre in the reference
var labelShift = { "AL359878.1": 10, "TCL6": 0, "miR-373": 0, "miR-519d": 4, "E2F2": 0, "KIF23": 0, "PBK": 3, "POLQ": 1 };

var ay = d3.scaleLinear().domain([0, 5]).range([789.5, 1110]);
var ax = d3.scalePoint().domain(alluvialAxes).range([682, 1175]);
var halfW = 12.3, flowGap = 15;
var alluvial = svg.append("g");

function stackNodes(names, sizes) {
  var out = {}, at = 0;
  names.forEach(function (n, i) {
    out[n] = { start: at, end: at + sizes[i], out: at, in: at };
    at += sizes[i];
  });
  return out;
}

var layers = [stackNodes(lncrnaNames, lncrnaSizes), stackNodes(mirnaNames, mirnaSizes), stackNodes(mrnaNames, mrnaSizes)];

var ribbon = d3.area()
  .x(function (d) { return d.x; })
  .y0(function (d) { return ay(d.y0); })
  .y1(function (d) { return ay(d.y1); })
  .curve(d3.curveBumpX);

function drawFlows(flows, fromIdx) {
  var from = layers[fromIdx], to = layers[fromIdx + 1];
  var x0 = ax(alluvialAxes[fromIdx]) + flowGap, x1 = ax(alluvialAxes[fromIdx + 1]) - flowGap;
  flows.forEach(function (f) {
    var s = from[f[0]], t = to[f[1]];
    var row = [
      { x: x0, y0: s.out, y1: s.out + f[2] },
      { x: x1, y0: t.in, y1: t.in + f[2] }
    ];
    s.out += f[2];
    t.in += f[2];
    alluvial.append("path")
      .attr("d", ribbon(row))
      .attr("fill", nodeColor[f[0]])
      .attr("fill-opacity", 0.56);
  });
}

drawFlows(leftFlows, 0);
drawFlows(rightFlows, 1);

layers.forEach(function (layer, i) {
  var cx = ax(alluvialAxes[i]);
  Object.keys(layer).forEach(function (name) {
    var n = layer[name];
    alluvial.append("rect")
      .attr("x", cx - halfW).attr("y", ay(n.start))
      .attr("width", halfW * 2).attr("height", ay(n.end) - ay(n.start))
      .attr("fill", nodeColor[name])
      .attr("stroke", "#4a4a4a").attr("stroke-width", 0.7);
    alluvial.append("text")
      .attr("transform", "translate(" + cx + "," + ((ay(n.start) + ay(n.end)) / 2 + labelShift[name]) + ") rotate(-90)")
      .attr("text-anchor", "middle").attr("dy", "0.33em")
      .style("font-family", serif).style("font-size", "15.5px").attr("fill", "#0a0a0a")
      .text(name);
  });
  alluvial.append("text")
    .attr("x", cx + (i === 2 ? -7 : 0)).attr("y", 1148)
    .attr("text-anchor", "middle")
    .style("font-family", serif).style("font-size", "20.5px").attr("fill", "#222")
    .text(alluvialAxes[i]);
});

svg.append("text").attr("x", 1).attr("y", 23)
  .style("font-family", sans).style("font-size", "27px").attr("fill", "#111").text("(a)");
svg.append("text").attr("x", 625).attr("y", 806)
  .style("font-family", sans).style("font-size", "27px").attr("fill", "#111").text("(b)");
</script>
</body>
</html>
